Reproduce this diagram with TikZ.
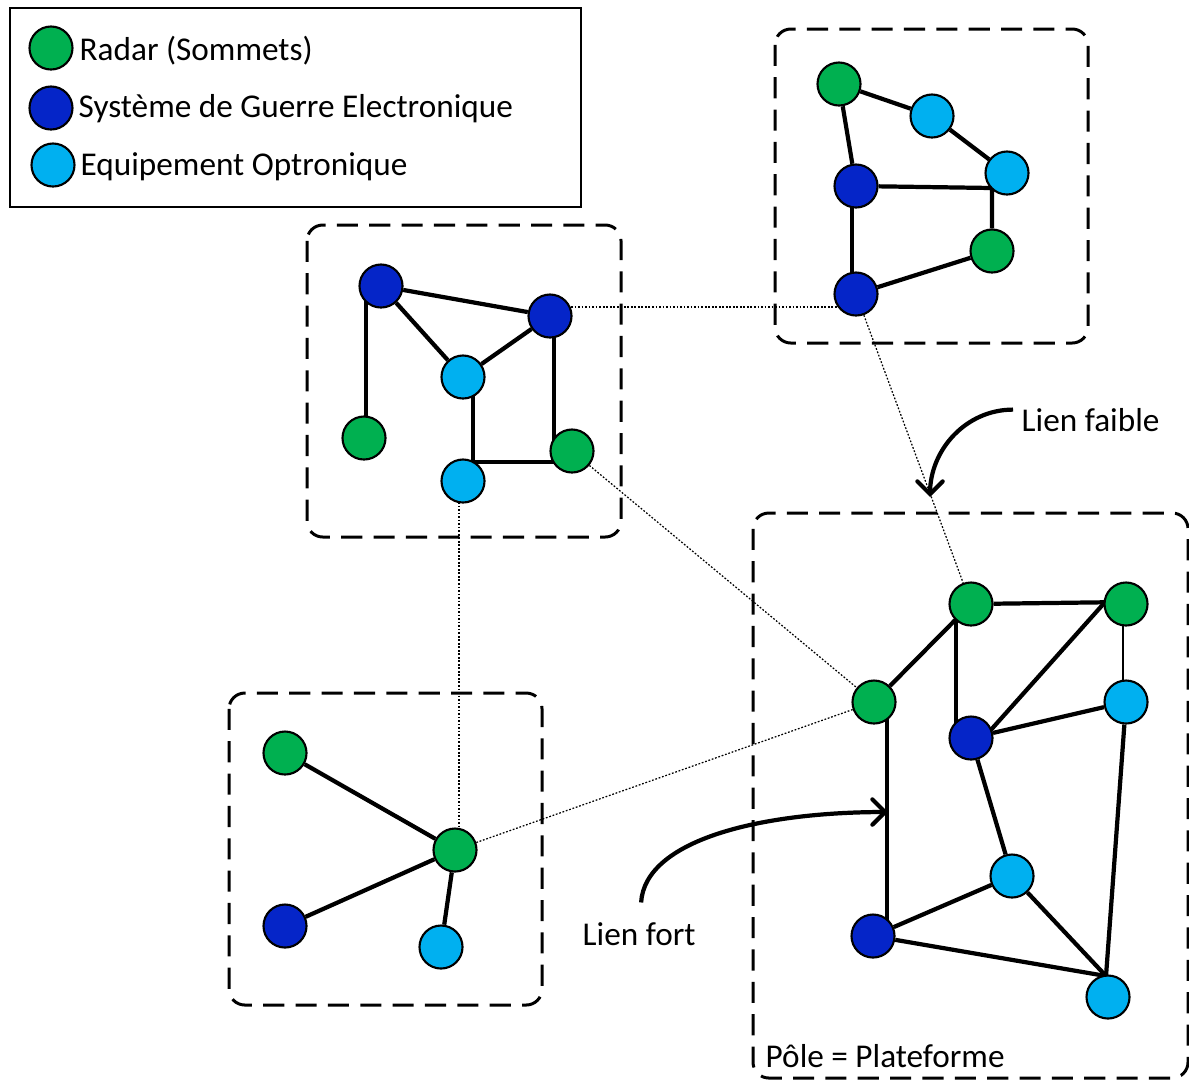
\documentclass[tikz,border=0pt]{standalone}
\usepackage{fontspec}
\setmainfont{Carlito}
\usepackage{tikz}
\usetikzlibrary{arrows,calc}

\definecolor{vertradar}{HTML}{00B050}
\definecolor{bleuge}{HTML}{0525C8}
\definecolor{bleuopt}{HTML}{00B0F0}

\pgfdeclarelayer{fond}
\pgfsetlayers{fond,main}

\begin{document}
\begin{tikzpicture}[x=0.01cm,y=-0.01cm,
  sommet/.style={circle,draw=black,line width=0.6pt,minimum size=0.43cm,inner sep=0pt},
  radar/.style={sommet,fill=vertradar},
  guerre/.style={sommet,fill=bleuge},
  optro/.style={sommet,fill=bleuopt},
  fort/.style={line width=1.2pt},
  faible/.style={line width=0.35pt,dash pattern=on 0.5pt off 0.5pt},
  pole/.style={line width=0.85pt,dash pattern=on 6pt off 3.2pt,rounded corners=4.5pt},
  texte/.style={anchor=base west,inner sep=0pt,font=\fontsize{9.45}{11}\selectfont},
  >=angle 90]
\useasboundingbox (0,0) rectangle (1189,1081);

% legende
\draw[line width=0.6pt] (10,8) rectangle (581,207);
\node[radar] (legR) at (51,48) {};
\node[guerre] (legG) at (51,108) {};
\node[optro] (legO) at (53,165) {};
\node[texte] (txtR) at (79,60) {Radar (Sommets)};
\node[texte] (txtG) at (78,117) {Système de Guerre Electronique};
\node[texte] (txtO) at (80,175) {Equipement Optronique};

% poles
\draw[pole] (307,225) rectangle (621,537);
\draw[pole] (775,29) rectangle (1088,343);
\draw[pole] (229,693) rectangle (542,1005);
\draw[pole] (753,513) rectangle (1188,1078);
\node[texte] (txtPole) at (765,1067) {Pôle = Plateforme};

\node[guerre] (A1) at (381,286) {};
\node[guerre] (A2) at (550,316) {};
\node[optro] (A3) at (463,377) {};
\node[radar] (A4) at (364,438) {};
\node[radar] (A5) at (572,451) {};
\node[optro] (A6) at (463,481) {};

\node[radar] (B1) at (839,84) {};
\node[optro] (B2) at (932,116) {};
\node[optro] (B3) at (1007,173) {};
\node[guerre] (B4) at (856,186) {};
\node[radar] (B5) at (992,251) {};
\node[guerre] (B6) at (856,294) {};

\node[radar] (C1) at (285,753) {};
\node[radar] (C2) at (455,850) {};
\node[guerre] (C3) at (285,926) {};
\node[optro] (C4) at (441,947) {};

\node[radar] (D1) at (971,604) {};
\node[radar] (D2) at (1126,604) {};
\node[radar] (D3) at (874,702) {};
\node[optro] (D4) at (1126,702) {};
\node[guerre] (D5) at (971,738) {};
\node[optro] (D6) at (1012,876) {};
\node[guerre] (D7) at (873,936) {};
\node[optro] (D8) at (1108,997) {};

\begin{pgfonlayer}{fond}
\draw[fort] (A1) -- (A2);
\draw[fort] (A1) -- (A3);
\draw[fort] ($(A1)+(-15,0)$) -- ($(A4)+(2,0)$);
\draw[fort] (A3) -- (A2);
\draw[fort] ($(A2)+(4,0)$) -- ($(A5)+(-18,0)$);
\draw[fort] ($(A3)+(10,0)$) |- ($(A5)+(0,11)$);

\draw[fort] (B1) -- (B2) -- (B3);
\draw[fort] (B1) -- (B4);
\draw[fort] (B4) -- ($(B3)+(-15,15)$) -- (B5);
\draw[fort] ($(B4)+(-4,0)$) -- ($(B6)+(-4,0)$);
\draw[fort] (B6) -- (B5);

\draw[fort] (C1) -- (C2);
\draw[fort] (C3) -- (C2);
\draw[fort] (C4) -- (C2);

\draw[fort] (D1) -- ($(D2)+(0,-2)$);
\draw[fort] (D1) -- (D3);
\draw[fort] ($(D1)+(-15,0)$) -- ($(D5)+(-15,0)$);
\draw[fort] ($(D5)+(18,-6)$) -- ($(D2)+(-20,-3)$);
\draw[line width=0.5pt] ($(D2)+(-3,0)$) -- ($(D4)+(-3,0)$);
\draw[fort] (D5) -- (D4);
\draw[fort] (D4) -- ($(D8)+(-2,-21)$);
\draw[fort] (D5) -- (D6);
\draw[fort] ($(D3)+(13,0)$) -- ($(D7)+(14,0)$);
\draw[fort] (D7) -- (D6);
\draw[fort] (D6) -- ($(D8)+(-2,-21)$);
\draw[fort] (D7) -- ($(D8)+(-2,-21)$);

\draw[faible] ($(A2)+(0,-9)$) -- ($(B6)+(0,13)$);
\draw[faible] (B6) -- (D1);
\draw[faible] (A5) -- (D3);
\draw[faible] ($(A6)+(-4,0)$) -- ($(C2)+(4,0)$);
\draw[faible] (C2) -- (D3);
\end{pgfonlayer}

% liens
\node[texte] (txtFaible) at (1021,431) {Lien faible};
\node[texte] (txtFort) at (582,945) {Lien fort};
\coordinate (flecheFaible) at (930,497);
\coordinate (flecheFort) at (888,812);
\draw[fort,->] ($(txtFaible.west)+(-8,-10)$) to[out=180,in=90] (flecheFaible);
\draw[fort,->] ($(txtFort.north)+(2,-19)$) .. controls (645,840) and (760,812) .. (flecheFort);
\end{tikzpicture}
\end{document}
